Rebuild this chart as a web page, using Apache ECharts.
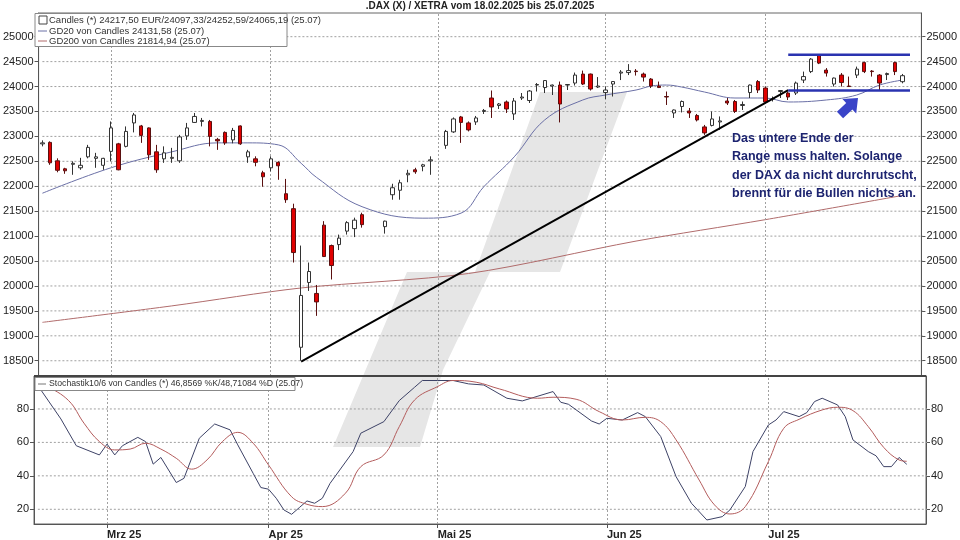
<!DOCTYPE html>
<html><head><meta charset="utf-8">
<script src="https://cdn.jsdelivr.net/npm/echarts@6/dist/echarts.min.js"></script>
<style>html,body{margin:0;padding:0;background:#fff}#c{width:960px;height:540px}</style>
</head><body><div id="c"></div>
<script>
// ---- data ----
const opens  = [22850,22880,22510,22350,22440,22370,22590,22560,22420,22700,22850,22800,23270,23210,23170,22690,22550,22560,22510,23010,23280,23300,23300,22940,23080,22930,23210,22590,22550,22270,22370,22480,21850,21550,18770,20070,19850,21220,20810,20830,21100,21150,21430,null,null,21190,21830,21920,22230,22330,22400,22510,null,22820,23090,23390,23270,23290,23500,23770,23620,23690,23450,23770,23720,24030,23980,24010,24030,24030,24070,24250,24250,23990,23880,24050,24270,24280,24310,24250,24150,24010,23800,23470,23600,23510,23420,23190,23220,23290,23710,23700,23620,23880,24100,23970,23750,23900,23870,23870,24130,24300,24630,24330,24050,24230,24010,24230,24480,24310,24230,24240,24480,24097.33];
const closes = [22870,22470,22320,22310,22460,22420,22780,22590,22560,23170,22330,23100,23430,23020,22630,22330,22670,22580,22990,23170,23400,23320,23000,22910,22870,23120,22850,22690,22480,22190,22550,22410,21730,20670,19810,20290,19680,20590,20410,20960,21270,21320,21230,null,null,21300,21970,22070,22260,22290,22430,22530,null,23100,23350,23280,23130,23370,23520,23590,23650,23550,23710,23790,23910,24040,24120,24030,23650,24040,24230,24050,23950,24010,23930,24100,24290,24320,24300,24190,24010,23980,23790,23530,23700,23470,23330,23070,23350,23310,23670,23500,23640,24030,23930,23690,23760,23920,23790,24070,24200,24550,24470,24270,24170,24080,24000,24350,24300,24300,24070,24260,24300,24217.5];
const lows   = [22800,22430,22280,22250,22230,22330,22560,22370,22330,22500,22320,22780,23080,22870,22530,22270,22470,22470,22470,22930,23270,23200,22800,22730,22830,22860,22830,22470,22400,21990,22300,22130,21667,20470,18500,19900,19400,20580,20130,20720,21030,20980,21170,null,null,21050,21730,21730,22080,22250,22300,22230,null,22750,23070,22870,23100,23230,23450,23370,23550,23470,23330,23730,23670,23900,23870,23830,23280,23930,24020,24030,23920,23970,23750,23800,24130,24230,24220,24100,23970,23970,23630,23370,23480,23370,23300,23030,23200,23130,23630,23470,23530,23770,23870,23670,23700,23770,23730,23830,24070,24270,24450,24200,24000,24000,24000,24170,24270,24200,23930,24130,24230,24065.19];
const highs  = [22920,22900,22560,22370,22500,22570,22830,22670,22570,23300,22870,23200,23470,23230,23180,22830,22800,22770,23030,23270,23470,23370,23330,22970,23100,23170,23220,22730,22600,22310,22600,22500,22147,21650,20810,20470,20020,21300,20830,21030,21300,21370,21470,null,null,21310,22050,22130,22330,22370,22450,22600,null,23130,23380,23410,23300,23410,23550,23920,23670,23720,23770,23870,23930,24070,24130,24040,24100,24050,24280,24320,24260,24190,24000,24110,24330,24450,24350,24280,24170,24100,23900,23540,23720,23570,23450,23230,23500,23400,23770,23730,23700,24040,24130,24000,23800,23930,23900,24100,24300,24570,24650,24370,24180,24270,24200,24400,24500,24330,24250,24280,24500,24252.59];
const gd20  = [[0,21860],[9,22370],[17,22690],[23,22870],[27,22870],[31,22830],[34,22460],[36,22180],[42,21590],[50,21360],[55,21460],[58,21990],[62,22590],[66,23330],[71,23730],[74,23830],[78,23930],[80,24010],[82,24030],[84,23990],[87,23890],[91,23770],[95,23770],[98,23690],[103,23730],[107,23830],[110,24030],[113,24130]];
const gd200 = [[0,19270],[17,19600],[34,19960],[56,20250],[78,20900],[95,21330],[113,21815]];
const trend = [[34,18480],[98,23930]];
const rangeTop = [[98,24640],[114,24640]];
const rangeLow = [[98,23920],[114,23920]];
const stochK = [[0,94],[3,74],[5,58],[8,52.5],[9,59],[10,52.5],[11,58],[13,63],[14,60.5],[15,47],[16,51],[18,36],[19,38.5],[21,62.5],[23,71],[25,67.5],[26,58.5],[28,41.5],[29,33],[30,32],[31,26.6],[32,19.6],[33,17],[34,21],[35,25],[36,23.6],[37,26.6],[38,35.5],[41,54.5],[42,65.5],[45,72.4],[47,85],[49,93],[50,97],[52,97],[54,97],[56,95],[58,94.3],[61,86.4],[63,84.8],[67,90.4],[68,84],[69,82.8],[72,72.8],[73,71],[74,74.4],[76,73.4],[78,77.8],[79,75.4],[81,63.5],[83,39.5],[85,23.6],[87,13.6],[89,15.6],[90,19.6],[92,33.6],[93,54.5],[95,70.4],[96,73.4],[97,78.4],[99,75.4],[100,77.8],[101,84.4],[102,86.4],[104,82.4],[105,75.4],[106,61.5],[108,54.5],[109,52],[110,45.5],[111,45.5],[112,51],[113,46.9]];
const stochD = [[0,95],[1,94],[4,85],[6,71.5],[8,60.5],[10,55.5],[12,56],[14,59.5],[16,56],[18,50.5],[20,44],[22,49.5],[24,60.5],[26,66],[28,59.5],[30,46.5],[33,27.5],[35,23],[37,21.6],[40,29.6],[42,45.5],[45,52.5],[47,69.4],[49,85.4],[52,93.4],[54,97],[57,96],[60,92],[65,86.4],[67,87],[70,85.8],[73,78.4],[76,73.4],[79,75],[81,72.4],[83,61.5],[86,37.5],[88,22.6],[90,17.2],[92,21.6],[95,48.5],[97,68.4],[99,73.8],[102,79.4],[104,81],[106,79],[108,69.4],[110,57],[112,49.5],[113,48.7]];
const priceTicks = [18500,19000,19500,20000,20500,21000,21500,22000,22500,23000,23500,24000,24500,25000];
const stochTicks = [20,40,60,80];
const monthIdx = [9,30,52,74,95];
const monthLabels = ['Mrz 25','Apr 25','Mai 25','Jun 25','Jul 25'];

// categories: weekdays from 18.02.2025 (+2 empty slots)
const cats = [];
{ let d = new Date(Date.UTC(2025,1,18));
  while (cats.length < 116) { const w = d.getUTCDay();
    if (w !== 0 && w !== 6) cats.push(String(d.getUTCDate()).padStart(2,'0')+'.'+String(d.getUTCMonth()+1).padStart(2,'0'));
    d = new Date(d.getTime()+86400000); } }
const candles = opens.map((o,i)=> o==null ? '-' : [o, closes[i], lows[i], highs[i]]);

const FONT = 'Liberation Sans';
const dash = {type:[2,2], color:'#a0a0a0', width:1};
const vLines = monthIdx.map(i=>({xAxis:cats[i]}));
const gridSeries = (ticks, xi, yi) => ticks.map(v=>({type:'line',xAxisIndex:xi,yAxisIndex:yi,data:[[-0.5,v],[115.5,v]],
  showSymbol:false,silent:true,z:1,lineStyle:dash}));
const chart = echarts.init(document.getElementById('c'), null, {renderer:'canvas'});
const ax = {axisLine:{show:true,lineStyle:{color:'#555'}}, splitLine:{show:false}};
const lbl = (vals)=>({customValues:vals,fontSize:11,color:'#222',margin:5,formatter:(v)=>String(v)});
chart.setOption({
  animation:false,
  textStyle:{fontFamily:FONT},
  grid:[{left:34,top:13,width:892,height:363,show:true,borderColor:'#666',borderWidth:1},
        {left:34,top:376,width:892,height:148,show:true,borderColor:'#666',borderWidth:1}],
  xAxis:[
    {type:'category',gridIndex:0,data:cats,boundaryGap:true,axisLabel:{show:false},axisTick:{show:false},axisLine:{show:false}},
    {type:'category',gridIndex:1,data:cats,boundaryGap:true,axisLine:{show:true,lineStyle:{color:'#555'}},
     axisTick:{show:true,interval:(i)=>monthIdx.includes(i),alignWithLabel:true,length:4,lineStyle:{color:'#555'}},
     axisLabel:{interval:(i)=>monthIdx.includes(i),formatter:(v,i)=>monthLabels[monthIdx.indexOf(i)]||'',align:'left',fontWeight:'bold',fontSize:11,color:'#222',margin:5}}
  ],
  yAxis:[
    Object.assign({type:'value',gridIndex:0,min:18194,max:25475,position:'left',
      axisLabel:lbl(priceTicks),axisTick:{show:true,customValues:priceTicks,length:4}},ax),
    Object.assign({type:'value',gridIndex:0,min:18194,max:25475,position:'right',
      axisLabel:lbl(priceTicks),axisTick:{show:true,customValues:priceTicks,length:4}},ax),
    Object.assign({type:'value',gridIndex:1,min:11.2,max:99.7,position:'left',
      axisLabel:lbl(stochTicks),axisTick:{show:true,customValues:stochTicks,length:4}},ax),
    Object.assign({type:'value',gridIndex:1,min:11.2,max:99.7,position:'right',
      axisLabel:lbl(stochTicks),axisTick:{show:true,customValues:stochTicks,length:4}},ax)
  ],
  series:[
    {type:'candlestick',xAxisIndex:0,yAxisIndex:0,data:candles,barMaxWidth:6,z:5,
     itemStyle:{color:'#ffffff',borderColor:'#333',color0:'#e00000',borderColor0:'#5a1010',borderWidth:1},
     markLine:{silent:true,symbol:'none',label:{show:false},lineStyle:dash,data:vLines}},
    {type:'line',xAxisIndex:0,yAxisIndex:0,data:gd20,smooth:0.4,connectNulls:true,showSymbol:false,lineStyle:{color:'#6b70a6',width:1},z:4},
    {type:'line',xAxisIndex:0,yAxisIndex:0,data:gd200,smooth:0.3,showSymbol:false,lineStyle:{color:'#b06b6b',width:1},z:4},
    {type:'line',xAxisIndex:0,yAxisIndex:0,data:trend,showSymbol:false,lineStyle:{color:'#000',width:2},z:6},
    {type:'line',xAxisIndex:0,yAxisIndex:0,data:rangeTop,showSymbol:false,lineStyle:{color:'#2a33b0',width:2.5},z:6},
    {type:'line',xAxisIndex:0,yAxisIndex:0,data:rangeLow,showSymbol:false,lineStyle:{color:'#2a33b0',width:2.5},z:6},
    {type:'line',xAxisIndex:1,yAxisIndex:2,data:stochK,showSymbol:false,lineStyle:{color:'#3d4266',width:1},z:5,
     markLine:{silent:true,symbol:'none',label:{show:false},lineStyle:dash,data:vLines}},
    {type:'line',xAxisIndex:1,yAxisIndex:2,data:stochD,smooth:0.4,showSymbol:false,lineStyle:{color:'#b35c5c',width:1},z:5}
  ].concat(gridSeries(priceTicks,0,0), gridSeries(stochTicks,1,2)),
  graphic:{elements:[
    {type:'polygon',z:-1,silent:true,shape:{points:[[333,447],[407,272],[475,272],[540,92],[627,92],[560,272],[490,272],[443,370],[420,447]]},style:{fill:'#e6e6e6'}},
    {type:'text',left:'center',top:1,style:{text:'.DAX (X) / XETRA vom 18.02.2025 bis 25.07.2025',font:'bold 10px '+FONT,fill:'#222'}},
    {type:'rect',z:100,shape:{x:35,y:13.5,width:252,height:33},style:{fill:'#fff',stroke:'#888',lineWidth:1}},
    {type:'rect',z:101,shape:{x:39,y:16,width:8,height:8},style:{fill:'#fff',stroke:'#444',lineWidth:1}},
    {type:'text',z:101,x:49,y:15,style:{text:'Candles (*) 24217,50 EUR/24097,33/24252,59/24065,19 (25.07)',font:'9.5px '+FONT,fill:'#333'}},
    {type:'line',z:101,shape:{x1:38,y1:31,x2:47,y2:31},style:{stroke:'#6b70a6',lineWidth:1}},
    {type:'text',z:101,x:49,y:26,style:{text:'GD20 von Candles 24131,58 (25.07)',font:'9.5px '+FONT,fill:'#333'}},
    {type:'line',z:101,shape:{x1:38,y1:41,x2:47,y2:41},style:{stroke:'#b06b6b',lineWidth:1}},
    {type:'text',z:101,x:49,y:36,style:{text:'GD200 von Candles 21814,94 (25.07)',font:'9.5px '+FONT,fill:'#333'}},
    {type:'rect',z:100,shape:{x:35,y:377.5,width:260,height:13},style:{fill:'#fff',stroke:'#888',lineWidth:1}},
    {type:'line',z:101,shape:{x1:38,y1:384,x2:46,y2:384},style:{stroke:'#777',lineWidth:1}},
    {type:'text',z:101,x:49,y:379.5,style:{text:'Stochastik10/6 von Candles (*) 46,8569 %K/48,71084 %D (25.07)',font:'8.7px '+FONT,fill:'#333'}},
    {type:'line',z:50,shape:{x1:34,y1:376,x2:926,y2:376},style:{stroke:'#444',lineWidth:2}},
    {type:'polygon',z:60,shape:{points:[[843.1,118.3],[852.4,109.5],[856.2,113.5],[858,98],[842.4,98.9],[846.2,102.9],[836.9,111.7]]},style:{fill:'#3a44c8'}},
    {type:'text',z:60,x:732,y:129,style:{text:'Das untere Ende der\nRange muss halten. Solange\nder DAX da nicht durchrutscht,\nbrennt für die Bullen nichts an.',font:'bold 12.5px '+FONT,fill:'#1d2470',lineHeight:18.5}}
  ]}
});
</script></body></html>
